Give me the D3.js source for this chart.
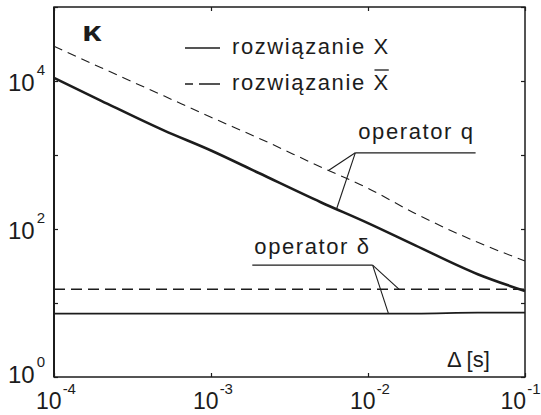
<!DOCTYPE html>
<html>
<head>
<meta charset="utf-8">
<script src="https://cdn.jsdelivr.net/npm/d3@7"></script>
<style>
  body { margin: 0; background: #fff; }
  svg { display: block; }
  text { font-family: "Liberation Sans", Arial, Helvetica, sans-serif; fill: #1c1c1c; }
</style>
</head>
<body>
<svg id="chart" width="541" height="415"></svg>
<script>
// Step size Δ [s] at which the condition numbers were evaluated
const delta = [1e-4, 2e-4, 5e-4, 1e-3, 2e-3, 5e-3, 1e-2, 2e-2, 5e-2, 1e-1];
// Condition number κ, operator q, solution X
const kappaQX = [11000, 5400, 2150, 1150, 575, 230, 120, 60, 24.5, 14.5];
// Condition number κ, operator q, solution X̄
const kappaQXbar = [29500, 15100, 6300, 3240, 1700, 690, 355, 162, 66, 37];
// Condition number κ, operator δ, solution X
const kappaDX = [7.2, 7.2, 7.2, 7.2, 7.2, 7.2, 7.2, 7.2, 7.4, 7.4];
// Condition number κ, operator δ, solution X̄
const kappaDXbar = [15.3, 15.3, 15.3, 15.3, 15.3, 15.3, 15.3, 15.3, 15.3, 15.3];

// Axis ticks (decades) and labelled exponents
const xTicks = [1e-4, 1e-3, 1e-2, 1e-1];
const xTickExp = ["-4", "-3", "-2", "-1"];
const yTicks = [1, 10, 100, 1e3, 1e4, 1e5];
const yLabelTicks = [1, 100, 1e4];
const yTickExp = ["0", "2", "4"];

const legendLabels = ["rozwiązanie X", "rozwiązanie X"];
const opQLabel = "operator q";
const opDLabel = "operator δ";

const svg = d3.select("#chart");
const ink = "#1c1c1c";
const W = 541;
const plot = { left: 54, right: 525, top: 7, bottom: 377 };

const x = d3.scaleLog().domain([1e-4, 1e-1]).range([plot.left, plot.right]);
const y = d3.scaleLog().domain([1, 1e5]).range([plot.bottom, plot.top]);

const line = d3.line()
  .x(d => x(d[0]))
  .y(d => y(d[1]))
  .curve(d3.curveMonotoneX);

function series(vals) { return delta.map((d, i) => [d, vals[i]]); }

// value of a series at Δ, interpolated in log-log
function at(vals, d) {
  const lx = delta.map(Math.log10), ly = vals.map(Math.log10);
  const t = Math.log10(d);
  let i = 0;
  while (i < lx.length - 2 && t > lx[i + 1]) i++;
  const f = (t - lx[i]) / (lx[i + 1] - lx[i]);
  return Math.pow(10, ly[i] + f * (ly[i + 1] - ly[i]));
}

// curves
svg.append("path").attr("d", line(series(kappaDX)))
  .attr("fill", "none").attr("stroke", ink).attr("stroke-width", 1.8);
svg.append("path").attr("d", line(series(kappaDXbar)))
  .attr("fill", "none").attr("stroke", ink).attr("stroke-width", 1.5)
  .attr("stroke-dasharray", "11,6");
svg.append("path").attr("d", line(series(kappaQXbar)))
  .attr("fill", "none").attr("stroke", ink).attr("stroke-width", 1.1)
  .attr("stroke-dasharray", "9,6");
svg.append("path").attr("d", line(series(kappaQX)))
  .attr("fill", "none").attr("stroke", ink).attr("stroke-width", 2.6);

// axes with inward ticks on all four sides
const tk = 4;
svg.append("g").attr("transform", `translate(0,${plot.bottom})`)
  .call(d3.axisBottom(x).tickValues(xTicks).tickSize(-tk).tickFormat(""));
svg.append("g").attr("transform", `translate(0,${plot.top})`)
  .call(d3.axisTop(x).tickValues(xTicks).tickSize(-tk).tickFormat(""));
svg.append("g").attr("transform", `translate(${plot.left},0)`)
  .call(d3.axisLeft(y).tickValues(yTicks).tickSize(-tk).tickFormat(""));
svg.append("g").attr("transform", `translate(${plot.right},0)`)
  .call(d3.axisRight(y).tickValues(yTicks).tickSize(-tk).tickFormat(""));
svg.selectAll(".domain").remove();
svg.selectAll(".tick line").attr("stroke", ink).attr("stroke-width", 1.2);

// frame
svg.append("rect")
  .attr("x", plot.left).attr("y", plot.top)
  .attr("width", plot.right - plot.left).attr("height", plot.bottom - plot.top)
  .attr("fill", "none").attr("stroke", ink).attr("stroke-width", 1.5);
svg.append("line")
  .attr("x1", plot.left).attr("x2", plot.left)
  .attr("y1", plot.top).attr("y2", plot.bottom)
  .attr("stroke", ink).attr("stroke-width", 2);

// tick labels
const xl = svg.append("g").selectAll("text").data(xTicks).join("text")
  .attr("x", d => x(d) + 2).attr("y", 409)
  .attr("text-anchor", "middle").attr("font-size", 23);
xl.append("tspan").text("10");
xl.append("tspan").attr("dy", -15).attr("dx", 1).attr("font-size", 15)
  .text((d, i) => xTickExp[i]);
// keep the last label inside the page
xl.each(function () {
  const w = this.getComputedTextLength();
  const cx = +this.getAttribute("x");
  if (cx + w / 2 > W - 1) this.setAttribute("x", W - 1 - w / 2);
});

const yl = svg.append("g").selectAll("text").data(yLabelTicks).join("text")
  .attr("x", 8).attr("y", d => y(d) + (d === 1 ? 6 : 10))
  .attr("font-size", 24);
yl.append("tspan").text("10");
yl.append("tspan").attr("dy", -16).attr("dx", 2).attr("font-size", 15)
  .text((d, i) => yTickExp[i]);

// axis titles
svg.append("text").attr("x", 82).attr("y", 41)
  .attr("font-size", 27).attr("font-weight", "bold")
  .attr("transform", "translate(82,41) scale(1.3,1) translate(-82,-41)")
  .text("κ");
svg.append("text").attr("x", 447).attr("y", 367)
  .attr("font-size", 22).text("Δ [s]");

// legend
const lg = svg.append("g");
const rowY = [48, 84];
lg.append("line").attr("x1", 185).attr("x2", 220).attr("y1", rowY[0]).attr("y2", rowY[0])
  .attr("stroke", ink).attr("stroke-width", 1.6);
lg.append("line").attr("x1", 185).attr("x2", 220).attr("y1", rowY[1]).attr("y2", rowY[1])
  .attr("stroke", ink).attr("stroke-width", 1.6).attr("stroke-dasharray", "8,6,30");
legendLabels.forEach((lab, i) => {
  const t = lg.append("text").attr("x", 232).attr("y", rowY[i] + 6)
    .attr("font-size", 22).attr("letter-spacing", 1.6).text(lab);
  if (i === 1) {
    // bar over the final X
    const n = lab.length;
    const ext = t.node().getExtentOfChar(n - 1);
    lg.append("line")
      .attr("x1", ext.x + 1).attr("x2", ext.x + ext.width - 1)
      .attr("y1", rowY[i] - 14).attr("y2", rowY[i] - 14)
      .attr("stroke", ink).attr("stroke-width", 1.3);
  }
});

// annotation: operator q
const qCorner = [x(8.3e-3), y(1070)];
const qText = svg.append("text").attr("x", qCorner[0] + 3).attr("y", qCorner[1] - 14)
  .attr("font-size", 22).attr("letter-spacing", 1.6).text(opQLabel);
const qW = qText.node().getComputedTextLength();
svg.append("line").attr("x1", qCorner[0]).attr("x2", qCorner[0] + qW + 4)
  .attr("y1", qCorner[1]).attr("y2", qCorner[1]).attr("stroke", ink).attr("stroke-width", 1.3);
[[5.6e-3, kappaQXbar], [6.3e-3, kappaQX]].forEach(([d, vals]) => {
  svg.append("line").attr("x1", qCorner[0]).attr("y1", qCorner[1])
    .attr("x2", x(d)).attr("y2", y(at(vals, d)))
    .attr("stroke", ink).attr("stroke-width", 1.1);
});

// annotation: operator δ
const dCorner = [x(1.07e-2), y(32.5)];
const dText = svg.append("text").attr("y", dCorner[1] - 11)
  .attr("font-size", 22).attr("letter-spacing", 1.6).text(opDLabel);
const dW = dText.node().getComputedTextLength();
dText.attr("x", dCorner[0] - dW - 2);
svg.append("line").attr("x1", dCorner[0] - dW - 4).attr("x2", dCorner[0])
  .attr("y1", dCorner[1]).attr("y2", dCorner[1]).attr("stroke", ink).attr("stroke-width", 1.3);
[[1.58e-2, kappaDXbar], [1.35e-2, kappaDX]].forEach(([d, vals]) => {
  svg.append("line").attr("x1", dCorner[0]).attr("y1", dCorner[1])
    .attr("x2", x(d)).attr("y2", y(at(vals, d)))
    .attr("stroke", ink).attr("stroke-width", 1.1);
});
</script>
</body>
</html>
